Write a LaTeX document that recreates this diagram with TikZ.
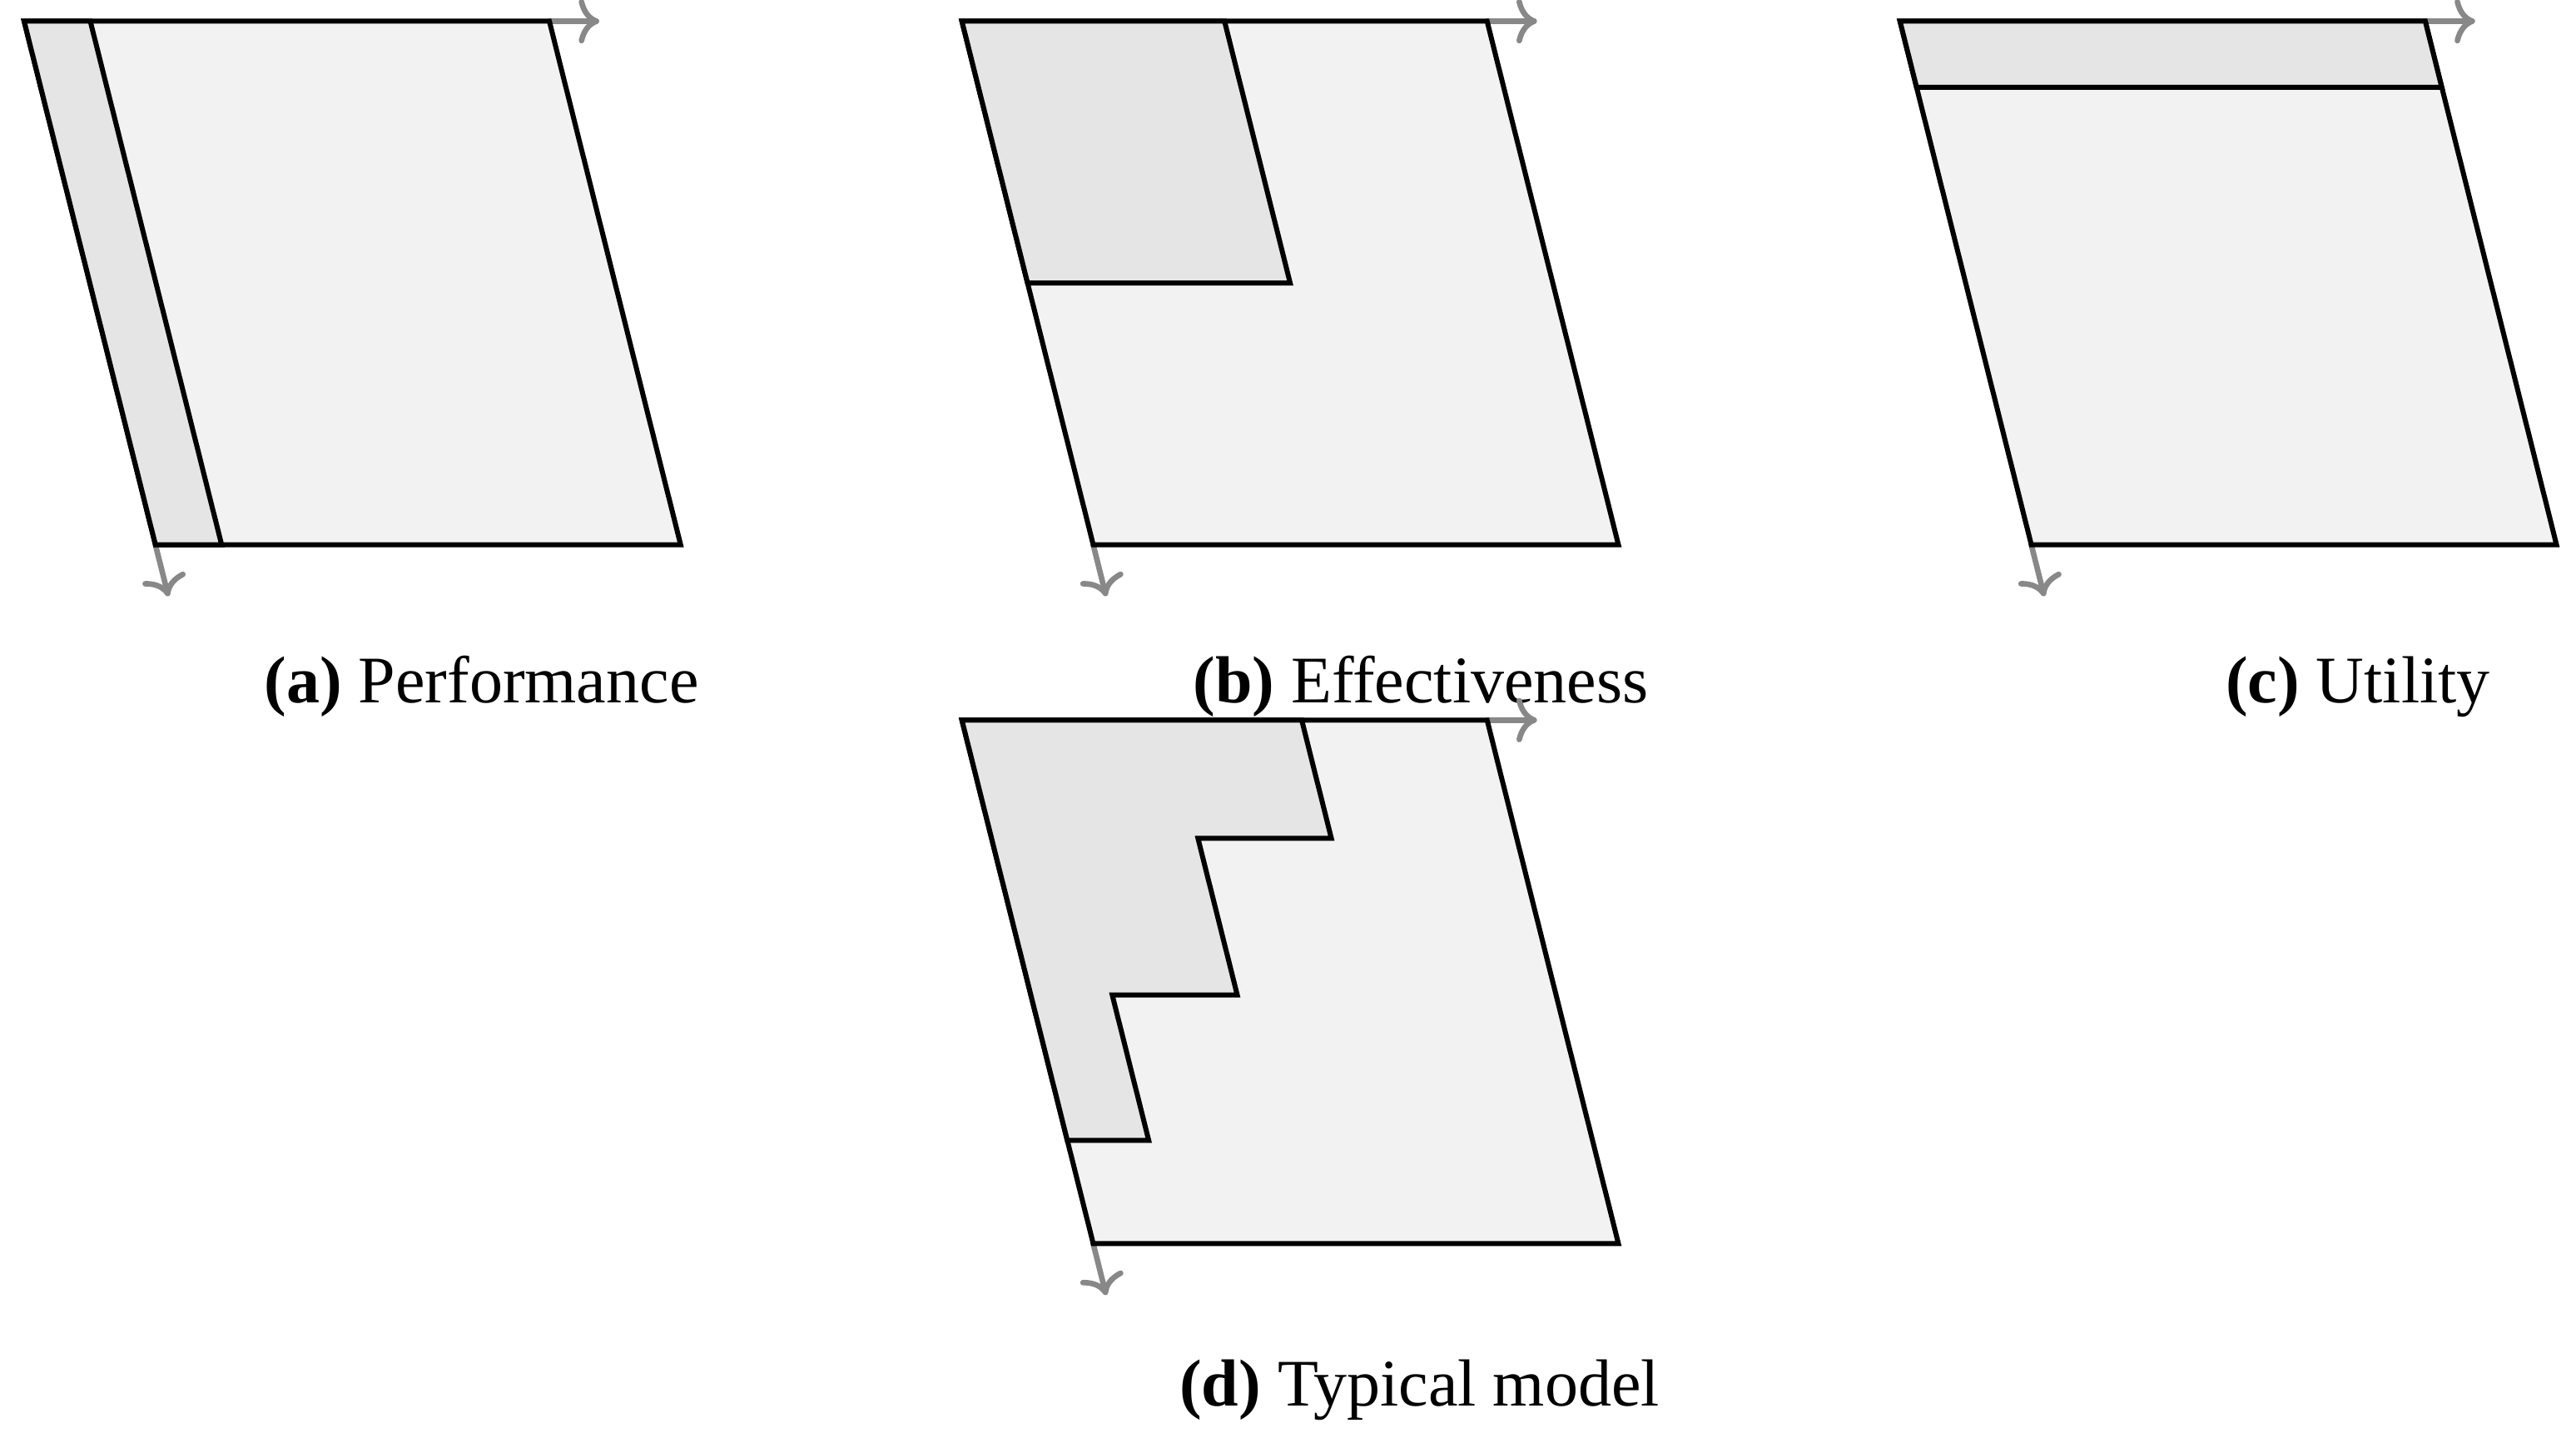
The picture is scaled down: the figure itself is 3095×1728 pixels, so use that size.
\documentclass[tikz,border=0pt]{standalone}
\usepackage{fontspec}
\setmainfont{Liberation Serif}
\usetikzlibrary{arrows.meta}
\definecolor{lightfill}{HTML}{F2F2F2}
\definecolor{darkfill}{HTML}{E5E5E5}
\definecolor{axisgray}{HTML}{888888}
\begin{document}
\begin{tikzpicture}[x=0.15pt,y=-0.15pt,
  panel/.style={draw=black, line width=0.9pt, fill=lightfill},
  part/.style={draw=black, line width=0.9pt, fill=darkfill},
  axis/.style={draw=axisgray, line width=1pt, line cap=round,
    -{Computer Modern Rightarrow[length=3.7pt,width=8pt,line cap=round]}},
  caption/.style={anchor=base, font=\fontsize{12pt}{14pt}\selectfont, inner sep=0pt},
  plane/.style={x={(94.65pt,0pt)}, y={(23.66pt,-94.35pt)}}]
\useasboundingbox (0,0) rectangle (3095,1728);

% ---------- (a) Performance ----------
\begin{scope}[shift={(29,25.5)}, plane]
  \coordinate (a-tl) at (0,0);
  \coordinate (a-tr) at (1,0);
  \coordinate (a-br) at (1,1);
  \coordinate (a-bl) at (0,1);
  \coordinate (a-x) at (1.095,0);
  \coordinate (a-y) at (0,1.0985);
  \draw[axis] (a-tr) -- (a-x);
  \draw[axis] (a-bl) -- (a-y);
  \path[panel] (a-tl) -- (a-tr) -- (a-br) -- (a-bl) -- cycle;
  \path[part] (0,0) -- (0.126,0) -- (0.126,1) -- (0,1) -- cycle;
\end{scope}
\node[caption] (capa) at (578.5,845) {\textbf{(a)} Performance};

% ---------- (b) Effectiveness ----------
\begin{scope}[shift={(1155.7,25.5)}, plane]
  \coordinate (b-tl) at (0,0);
  \coordinate (b-tr) at (1,0);
  \coordinate (b-br) at (1,1);
  \coordinate (b-bl) at (0,1);
  \coordinate (b-x) at (1.095,0);
  \coordinate (b-y) at (0,1.0985);
  \draw[axis] (b-tr) -- (b-x);
  \draw[axis] (b-bl) -- (b-y);
  \path[panel] (b-tl) -- (b-tr) -- (b-br) -- (b-bl) -- cycle;
  \path[part] (0,0) -- (0.5,0) -- (0.5,0.5) -- (0,0.5) -- cycle;
\end{scope}
\node[caption] (capb) at (1707,845) {\textbf{(b)} Effectiveness};

% ---------- (c) Utility ----------
\begin{scope}[shift={(2282.8,25.5)}, plane]
  \coordinate (c-tl) at (0,0);
  \coordinate (c-tr) at (1,0);
  \coordinate (c-br) at (1,1);
  \coordinate (c-bl) at (0,1);
  \coordinate (c-x) at (1.095,0);
  \coordinate (c-y) at (0,1.0985);
  \draw[axis] (c-tr) -- (c-x);
  \draw[axis] (c-bl) -- (c-y);
  \path[panel] (c-tl) -- (c-tr) -- (c-br) -- (c-bl) -- cycle;
  \path[part] (0,0) -- (1,0) -- (1,0.126) -- (0,0.126) -- cycle;
\end{scope}
\node[caption] (capc) at (2833,845) {\textbf{(c)} Utility};

% ---------- (d) Typical model ----------
\begin{scope}[shift={(1155.7,865.3)}, plane]
  \coordinate (d-tl) at (0,0);
  \coordinate (d-tr) at (1,0);
  \coordinate (d-br) at (1,1);
  \coordinate (d-bl) at (0,1);
  \coordinate (d-x) at (1.095,0);
  \coordinate (d-y) at (0,1.0985);
  \draw[axis] (d-tr) -- (d-x);
  \draw[axis] (d-bl) -- (d-y);
  \path[panel] (d-tl) -- (d-tr) -- (d-br) -- (d-bl) -- cycle;
  \path[part] (0,0) -- (0.647,0) -- (0.647,0.226) -- (0.393,0.226)
    -- (0.393,0.525) -- (0.155,0.525) -- (0.155,0.803) -- (0,0.803) -- cycle;
\end{scope}
\node[caption] (capd) at (1705.5,1689) {\textbf{(d)} Typical model};
\end{tikzpicture}
\end{document}
